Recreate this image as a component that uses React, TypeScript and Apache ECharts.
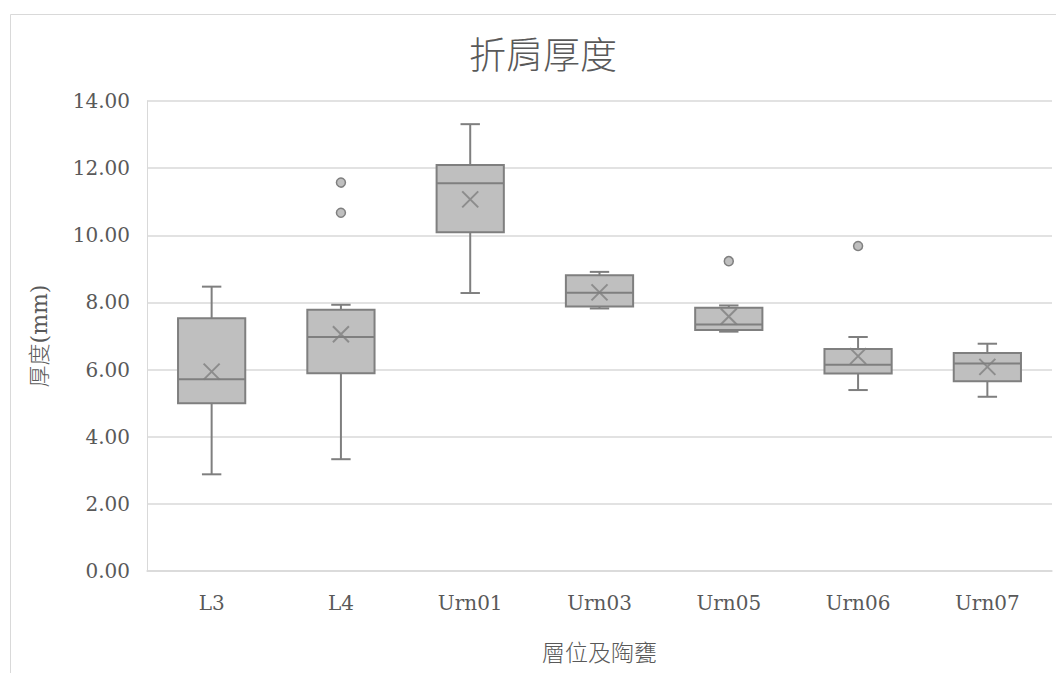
import React, { useEffect, useRef } from "react";
import * as echarts from "echarts";

const categories = ["L3", "L4", "Urn01", "Urn03", "Urn05", "Urn06", "Urn07"];
const mins = [2.88, 3.33, 8.28, 7.82, 7.13, 5.39, 5.19];
const q1s = [5.0, 5.89, 10.09, 7.88, 7.18, 5.88, 5.65];
const medians = [5.71, 6.97, 11.55, 8.29, 7.34, 6.14, 6.18];
const q3s = [7.53, 7.78, 12.09, 8.81, 7.84, 6.61, 6.49];
const maxs = [8.47, 7.93, 13.31, 8.91, 7.91, 6.97, 6.77];
const means = [5.94, 7.05, 11.07, 8.3, 7.58, 6.4, 6.08];
const outlierCats = ["L4", "L4", "Urn05", "Urn06"];
const outlierVals = [11.57, 10.67, 9.23, 9.68];
const yTicks = { min: 0, max: 14, interval: 2 };

const GRAY = "#7f7f7f";
const FILL = "#bfbfbf";
const TEXT = "#595959";
const GRID = "#d9d9d9";
const SERIF = "'DejaVu Serif', 'Liberation Serif', serif";
const CJK = "'Noto Sans CJK TC', 'Noto Sans CJK SC', sans-serif";
const MIXED = "'DejaVu Serif', 'Noto Sans CJK TC', serif";

export default function App() {
  const ref = useRef<HTMLDivElement>(null);
  useEffect(() => {
    if (!ref.current) return;
    const chart = echarts.init(ref.current, null, { renderer: "svg" });
    const boxData = categories.map((_, i) => [i, mins[i], q1s[i], medians[i], q3s[i], maxs[i]]);
    const option: any = {
      animation: false,
      backgroundColor: "#ffffff",
      title: {
        text: "折肩厚度",
        left: 464,
        top: 29,
        textStyle: { fontFamily: CJK, fontSize: 37, fontWeight: 300, color: TEXT },
      },
      graphic: [
        {
          type: "rect",
          shape: { x: 10.5, y: 14.5, width: 1080, height: 700 },
          style: { fill: "none", stroke: GRID, lineWidth: 1 },
          silent: true,
          z: -10,
        },
      ],
      grid: { left: 147, right: 4, top: 101, bottom: 102, containLabel: false },
      xAxis: {
        type: "category",
        data: categories,
        boundaryGap: true,
        axisLine: { show: true, lineStyle: { color: GRID, width: 1.5 } },
        axisTick: { show: false },
        axisLabel: { color: TEXT, fontFamily: SERIF, fontSize: 20, margin: 22 },
        name: "層位及陶甕",
        nameLocation: "middle",
        nameGap: 68,
        nameTextStyle: { color: TEXT, fontFamily: CJK, fontSize: 23, fontWeight: 300 },
        splitLine: { show: false },
      },
      yAxis: {
        type: "value",
        min: yTicks.min,
        max: yTicks.max,
        interval: yTicks.interval,
        axisLine: { show: true, lineStyle: { color: GRID, width: 1 } },
        axisTick: { show: false },
        axisLabel: {
          color: TEXT,
          fontFamily: SERIF,
          fontSize: 20,
          margin: 17,
          formatter: (v: number) => v.toFixed(2),
        },
        splitLine: { show: true, lineStyle: { color: GRID, width: 1.5 } },
        name: "厚度(mm)",
        nameLocation: "middle",
        nameRotate: 90,
        nameGap: 97,
        nameTextStyle: { color: TEXT, fontFamily: MIXED, fontSize: 22, fontWeight: 300 },
      },
      series: [
        {
          type: "custom",
          data: boxData,
          encode: { x: 0, y: [1, 2, 3, 4, 5] },
          z: 2,
          renderItem: (params: any, api: any) => {
            const x = api.value(0);
            const lo = api.coord([x, api.value(1)]);
            const q1 = api.coord([x, api.value(2)]);
            const med = api.coord([x, api.value(3)]);
            const q3 = api.coord([x, api.value(4)]);
            const hi = api.coord([x, api.value(5)]);
            const band = api.size([1, 0])[0];
            const bw = band * 0.52;
            const cw = band * 0.15;
            const cx = lo[0];
            const st = { stroke: GRAY, lineWidth: 2, fill: "none" };
            return {
              type: "group",
              children: [
                { type: "line", shape: { x1: cx, y1: hi[1], x2: cx, y2: q3[1] }, style: st },
                { type: "line", shape: { x1: cx, y1: q1[1], x2: cx, y2: lo[1] }, style: st },
                { type: "line", shape: { x1: cx - cw / 2, y1: hi[1], x2: cx + cw / 2, y2: hi[1] }, style: st },
                { type: "line", shape: { x1: cx - cw / 2, y1: lo[1], x2: cx + cw / 2, y2: lo[1] }, style: st },
                {
                  type: "rect",
                  shape: { x: cx - bw / 2, y: q3[1], width: bw, height: q1[1] - q3[1] },
                  style: { fill: FILL, stroke: GRAY, lineWidth: 2 },
                },
                { type: "line", shape: { x1: cx - bw / 2, y1: med[1], x2: cx + bw / 2, y2: med[1] }, style: st },
              ],
            };
          },
        },
        {
          type: "scatter",
          data: categories.map((c, i) => [c, means[i]]),
          symbol: "path://M0,0L10,10M10,0L0,10",
          symbolSize: 16,
          itemStyle: { color: "none", borderColor: GRAY, borderWidth: 2 },
          z: 3,
        },
        {
          type: "scatter",
          data: outlierCats.map((c, i) => [c, outlierVals[i]]),
          symbol: "circle",
          symbolSize: 9,
          itemStyle: { color: FILL, borderColor: GRAY, borderWidth: 1.5, opacity: 1 },
          z: 3,
        },
      ],
    };
    chart.setOption(option);
    return () => chart.dispose();
  }, []);
  return (
    <div
      ref={ref}
      style={{ position: "fixed", left: 0, top: 0, width: 1056, height: 673, background: "#fff" }}
    />
  );
}
